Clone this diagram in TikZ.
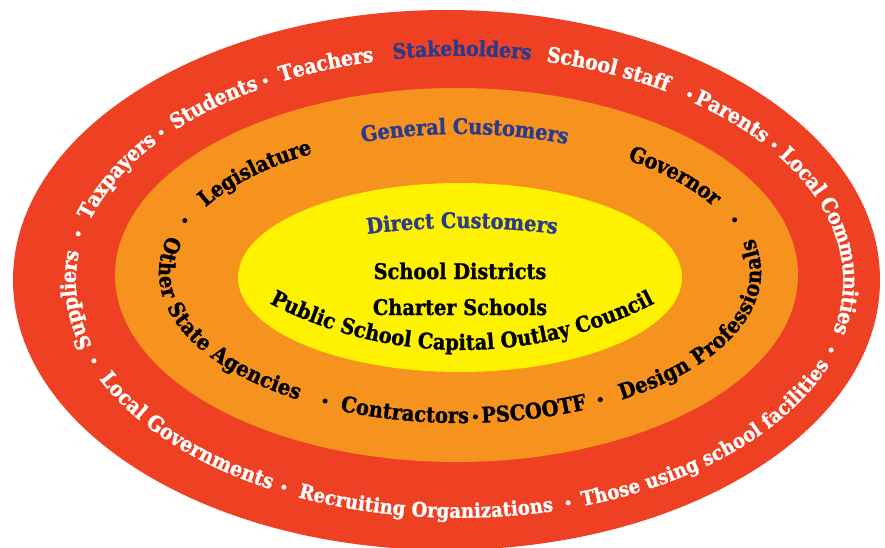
\documentclass[tikz,border=0pt]{standalone}
\usepackage{fontspec}
\usetikzlibrary{decorations.text}
\newfontfamily\ringserif{DejaVu Serif Condensed}[BoldFeatures={FakeBold=1.2}]

\definecolor{ringred}{HTML}{EE4124}
\definecolor{ringorange}{HTML}{F6921E}
\definecolor{coreyellow}{HTML}{FFF200}
\definecolor{labelblue}{HTML}{2B3A8C}

% text formats
\newcommand\outerfmt{\ringserif\bfseries\fontsize{21}{25}\selectfont\color{white}}
\newcommand\outertight{\ringserif\bfseries\fontsize{20}{24}\selectfont\color{white}}
\newcommand\outerhead{\ringserif\bfseries\fontsize{21}{25}\selectfont\color{labelblue}}
\newcommand\midfmt{\ringserif\bfseries\fontsize{21.5}{25}\selectfont\color{black}}
\newcommand\midhead{\ringserif\bfseries\fontsize{21.5}{25}\selectfont\color{labelblue}}

% text along an arc of the outer ring (centre line of the red band)
\newcommand\outerarc[3]{\path[decorate, decoration={text along path, text align=center, raise=-5.8pt, text={#3}}]
  (#1:389.5pt and 231pt) arc[start angle=#1, end angle=#2, x radius=389.5pt, y radius=231pt];}
% text along an arc of the middle ring (centre line of the orange band)
\newcommand\midarc[3]{\path[decorate, decoration={text along path, text align=center, raise=-6pt, text={#3}}]
  (#1:295pt and 144.5pt) arc[start angle=#1, end angle=#2, x radius=295pt, y radius=144.5pt];}

\begin{document}
\begin{tikzpicture}[x=1pt, y=1pt]
\useasboundingbox (0,0) rectangle (885,547);
\fill[white] (0,0) rectangle (885,547);

% the three nested ellipses
\fill[ringred]     (446.5,267) ellipse [x radius=433.5pt, y radius=270pt];
\fill[ringorange]  (456.5,272) ellipse [x radius=341.5pt, y radius=187pt];
\fill[coreyellow]  (460,269.5) ellipse [x radius=222pt, y radius=94.5pt];

% outer ring: stakeholders
\begin{scope}[shift={(459.5,266)}]
  \outerarc{202}{167}{|\outerfmt|Suppliers}
  \outerarc{168.4}{138.4}{|\outerfmt|Taxpayers}
  \outerarc{141.7}{117.7}{|\outerfmt|Students}
  \outerarc{121.3}{99.3}{|\outerfmt|Teachers}
  \outerarc{103.6}{75.6}{|\outerhead|Stakeholders}
  \outerarc{80.1}{54.1}{|\outerfmt|School staff}
  \outerarc{56}{34}{|\outerfmt|Parents}
  \outerarc{38.2}{-18.3}{|\outerfmt|Local Communities}
  \outerarc{-160.5}{-115.4}{|\outerfmt|Local Governments}
  \outerarc{-118.3}{-72.3}{|\outertight|Recruiting Organizations}
  \outerarc{-75}{-15.5}{|\outertight|Those using school facilities}
  \foreach \a in {168.2,140,119.9,53.8,36.1,-17.4,-159.8,-116.8,-73.8}
    \fill[white] (\a:389.5pt and 231pt) circle (2.5pt);
\end{scope}

% middle ring: general customers
\begin{scope}[shift={(460,274.5)}]
  \midarc{115}{63}{|\midhead|General Customers}
  \midarc{156}{117}{|\midfmt|Legislature}
  \midarc{60}{22}{|\midfmt|Governor}
  \midarc{158}{242.2}{|\midfmt|Other State Agencies}
  \midarc{243.9}{273.9}{|\midfmt|Contractors}
  \midarc{272.8}{296.8}{|\midfmt|PSCOOTF}
  \midarc{296.7}{382.7}{|\midfmt|Design Professionals}
  \foreach \a in {158.9,21.4,242.8,273,298.4}
    \fill[black] (\a:295pt and 144.5pt) circle (2.5pt);
\end{scope}

% inner core: direct customers
\path[decorate, decoration={text along path, text align=center, text={|\midhead|Direct Customers}}]
  (462,-436) ++(100:755pt) arc[start angle=100, end angle=80, radius=755pt];
\node[anchor=base, font=\midfmt, inner sep=0pt] (districts) at (460,268) {School Districts};
\node[anchor=base, font=\midfmt, inner sep=0pt] (charter) at (460,232) {Charter Schools};
\path[decorate, decoration={text along path, text align=center, text={|\midfmt|Public School Capital Outlay Council}}]
  (462,617) ++(240:420pt) arc[start angle=240, end angle=300, radius=420pt];
\end{tikzpicture}
\end{document}
